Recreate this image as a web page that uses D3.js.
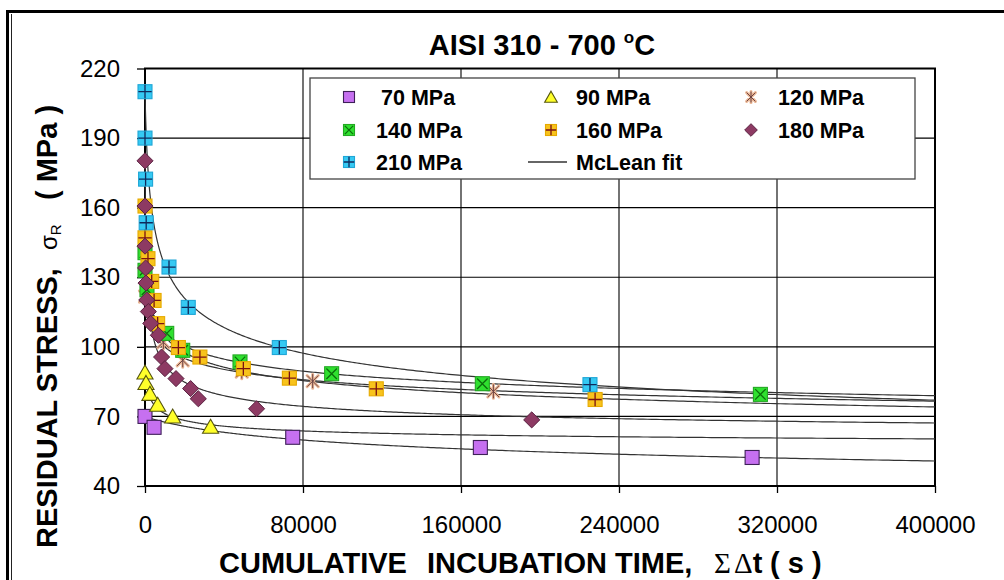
<!DOCTYPE html>
<html>
<head>
<meta charset="utf-8">
<script src="https://cdn.jsdelivr.net/npm/d3@7"></script>
<style>
  html, body { margin: 0; padding: 0; background: #fff; }
  svg { display: block; font-family: "Liberation Sans", Arial, Helvetica, sans-serif; }
</style>
</head>
<body>
<svg id="chart" width="1004" height="580"></svg>
<script>
// ---- data ----------------------------------------------------------------
const seriesNames = ["70 MPa", "90 MPa", "120 MPa", "140 MPa", "160 MPa", "180 MPa", "210 MPa"];

// cumulative incubation time (s) and residual stress (MPa) for each initial stress
const t70  = [0, 4600, 74800, 169800, 307400];
const s70  = [70, 65.3, 61, 56.6, 52.3];

const t90  = [0, 500, 2500, 6400, 14000, 33200];
const s90  = [89, 84.5, 79.8, 75.1, 70, 65.6];

const t120 = [0, 9300, 19100, 49000, 84900, 176400];
const s120 = [121.7, 102, 94.2, 89.3, 85.2, 80.8];

const t140 = [0, 0, 1000, 11000, 19100, 48100, 94500, 170800, 311600];
const s140 = [140.6, 133, 124.6, 105.8, 98.5, 93.5, 88.4, 84.1, 79.5];

const t160 = [0, 0, 1500, 3400, 4600, 6400, 16900, 27800, 49800, 73100, 117100, 227900];
const s160 = [160.7, 147, 138, 128.2, 120, 110, 99.7, 95.6, 90.6, 86.5, 81.9, 77.3];

const t180 = [0, 0, 0, 300, 500, 900, 1700, 2900, 6750, 8400, 10100, 15700, 23100, 27000, 56500, 195800];
const s180 = [180.2, 160.7, 143.4, 134, 127.5, 120.2, 115.2, 110.1, 105, 95.6, 90.6, 86.3, 82, 77.6, 73.3, 68.5];

const t210 = [0, 0, 300, 600, 12150, 21900, 68000, 225300];
const s210 = [210, 190, 172.3, 153.5, 134.4, 117, 99.7, 83.7];

// McLean relaxation fit: sigma(t) = si + (s0 - si) * (1 + t / tau)^(-m)
const fitS0  = [69.9, 89.1, 121.7, 140.6, 160.7, 180.2, 210];
const fitSi  = [0, 55, 30, 30, 30, 58, 30];
const fitTau = [30000, 1000, 1000, 500, 200, 300, 1000];
const fitM   = [0.12, 0.31, 0.113, 0.122, 0.143, 0.36, 0.224];

const xTicks = [0, 80000, 160000, 240000, 320000, 400000];
const yTicks = [40, 70, 100, 130, 160, 190, 220];

const seriesT = [t70, t90, t120, t140, t160, t180, t210];
const seriesS = [s70, s90, s120, s140, s160, s180, s210];

// ---- marker styles -------------------------------------------------------
const styles = [
  { kind: "square",     fill: "#c670f0", stroke: "#3e2058" },
  { kind: "triangle",   fill: "#ffff2a", stroke: "#55550e" },
  { kind: "star",       fill: "none",    stroke: "#ebb795", inner: "#6b4343" },
  { kind: "xsquare",    fill: "#2fe02f", stroke: "#23a823", inner: "#0b6e0b" },
  { kind: "plussquare", fill: "#f8c31c", stroke: "#e6aa00", inner: "#7a1212" },
  { kind: "diamond",    fill: "#8d3a63", stroke: "#5a2141" },
  { kind: "plussquare", fill: "#35c9f3", stroke: "#20a6d6", inner: "#0f2a5c" }
];

function drawMarker(sel, st, cx, cy, r) {
  const g = sel.append("g").attr("transform", `translate(${cx},${cy})`);
  if (st.kind === "square" || st.kind === "xsquare" || st.kind === "plussquare") {
    g.append("rect").attr("x", -r).attr("y", -r).attr("width", 2 * r).attr("height", 2 * r)
      .attr("fill", st.fill).attr("stroke", st.stroke).attr("stroke-width", 1.1);
    if (st.kind === "xsquare") {
      g.append("path").attr("d", `M${-r * 0.75},${-r * 0.75}L${r * 0.75},${r * 0.75}M${-r * 0.75},${r * 0.75}L${r * 0.75},${-r * 0.75}`)
        .attr("stroke", st.inner).attr("stroke-width", 1.3);
    }
    if (st.kind === "plussquare") {
      g.append("path").attr("d", `M0,${-r * 0.95}L0,${r * 0.95}M${-r * 0.95},0L${r * 0.95},0`)
        .attr("stroke", st.inner).attr("stroke-width", 1.3);
    }
  } else if (st.kind === "triangle") {
    g.append("path").attr("d", `M0,${-r * 1.05}L${r * 1.15},${r * 0.95}L${-r * 1.15},${r * 0.95}Z`)
      .attr("fill", st.fill).attr("stroke", st.stroke).attr("stroke-width", 1.1);
  } else if (st.kind === "diamond") {
    const d = r * 1.15;
    g.append("path").attr("d", `M0,${-d}L${d},0L0,${d}L${-d},0Z`)
      .attr("fill", st.fill).attr("stroke", st.stroke).attr("stroke-width", 1);
  } else if (st.kind === "star") {
    const a = r * 0.8;
    const p = `M0,${-r}L0,${r}M${-a},${-a}L${a},${a}M${-a},${a}L${a},${-a}`;
    g.append("path").attr("d", p).attr("stroke", st.stroke).attr("stroke-width", 3).attr("stroke-linecap", "round");
    g.append("path").attr("d", p).attr("stroke", st.inner).attr("stroke-width", 1);
  }
}

// ---- layout --------------------------------------------------------------
const svg = d3.select("#chart");
const x = d3.scaleLinear().domain([0, 400000]).range([145, 935]);
const y = d3.scaleLinear().domain([40, 220]).range([486, 68.5]);

svg.append("rect").attr("width", 1004).attr("height", 580).attr("fill", "#fff");

// outer frame of the figure
svg.append("path").attr("d", "M7.5,580V11.5H1004").attr("fill", "none").attr("stroke", "#000").attr("stroke-width", 3);
svg.append("path").attr("d", "M11.5,14V580").attr("fill", "none").attr("stroke", "#222").attr("stroke-width", 1);

// title
const title = svg.append("text").attr("x", 542).attr("y", 55).attr("text-anchor", "middle")
  .attr("font-size", 29).attr("font-weight", "bold").attr("fill", "#000");
title.append("tspan").text("AISI 310 - 700 ");
title.append("tspan").attr("font-size", 17).attr("dy", -12).text("o");
title.append("tspan").attr("dy", 12).text("C");

// gridlines
const grid = svg.append("g").attr("stroke", "#000").attr("stroke-width", 1.1);
grid.selectAll(".gy").data(yTicks.slice(1, -1)).join("line")
  .attr("x1", x(0)).attr("x2", x(400000)).attr("y1", d => y(d)).attr("y2", d => y(d));
grid.selectAll(".gx").data(xTicks.slice(1, -1)).join("line")
  .attr("y1", y(40)).attr("y2", y(220)).attr("x1", d => x(d)).attr("x2", d => x(d));

// axes
const yAxis = svg.append("g").attr("transform", `translate(${x(0)},0)`)
  .call(d3.axisLeft(y).tickValues(yTicks).tickSize(8).tickPadding(17));
const xAxis = svg.append("g").attr("transform", `translate(0,${y(40)})`)
  .call(d3.axisBottom(x).tickValues(xTicks).tickSize(7).tickPadding(23).tickFormat(d3.format("d")));
[yAxis, xAxis].forEach(a => {
  a.select(".domain").remove();
  a.attr("font-family", null).attr("font-size", null);
  a.selectAll(".tick line").attr("stroke", "#000").attr("stroke-width", 1.3);
  a.selectAll(".tick text").attr("font-size", 24).attr("fill", "#000");
});

// plot border
svg.append("rect").attr("x", x(0)).attr("y", y(220)).attr("width", x(400000) - x(0)).attr("height", y(40) - y(220))
  .attr("fill", "none").attr("stroke", "#000").attr("stroke-width", 2);

// McLean fit curves
const sampleT = d3.range(0, 401).map(i => 400000 * Math.pow(i / 400, 3));
const line = d3.line().x(d => x(d[0])).y(d => y(d[1]));
const fits = svg.append("g").attr("fill", "none").attr("stroke", "#333").attr("stroke-width", 1.2);
seriesNames.forEach((n, i) => {
  const pts = sampleT.map(t => [t, fitSi[i] + (fitS0[i] - fitSi[i]) * Math.pow(1 + t / fitTau[i], -fitM[i])]);
  fits.append("path").attr("d", line(pts));
});

// data markers
const marks = svg.append("g");
seriesNames.forEach((n, i) => {
  const g = marks.append("g").attr("class", "series");
  seriesT[i].forEach((t, j) => drawMarker(g, styles[i], x(t), y(seriesS[i][j]), 7));
});

// legend
const lg = svg.append("g");
lg.append("rect").attr("x", 310).attr("y", 78).attr("width", 605).attr("height", 101)
  .attr("fill", "#fff").attr("stroke", "#444").attr("stroke-width", 1.3);
const colMarker = [349, 551, 751];
const colText = [376, 576, 778];
const rowY = [97, 130, 162];
const legendItems = seriesNames.concat(["McLean fit"]);
legendItems.forEach((name, k) => {
  const c = k % 3, r = Math.floor(k / 3);
  if (k < seriesNames.length) {
    drawMarker(lg, styles[k], colMarker[c], rowY[r], 5.5);
  } else {
    lg.append("line").attr("x1", 528).attr("x2", 567).attr("y1", rowY[r]).attr("y2", rowY[r])
      .attr("stroke", "#333").attr("stroke-width", 1.3);
  }
  lg.append("text").attr("x", colText[c] + (name === "70 MPa" ? 5 : 0)).attr("y", rowY[r] + 7.5)
    .attr("font-size", 21.5).attr("font-weight", "bold").attr("fill", "#000").text(name);
});

// y axis title
const yt = svg.append("text").attr("transform", "translate(57,548) rotate(-90)")
  .attr("font-size", 29).attr("font-weight", "bold").attr("fill", "#000");
yt.append("tspan").attr("x", 0).text("RESIDUAL STRESS,");
yt.append("tspan").attr("x", 298).attr("font-size", 24).attr("font-weight", "normal").text("σ");
yt.append("tspan").attr("font-size", 15).attr("font-weight", "normal").attr("dy", 4).text("R");
yt.append("tspan").attr("x", 348).attr("dy", -4).text("( MPa )");

// x axis title
const serif = "'Liberation Serif', 'Times New Roman', serif";
const xt = svg.append("text").attr("y", 573).attr("font-size", 29).attr("font-weight", "bold").attr("fill", "#000");
xt.append("tspan").attr("x", 219).text("CUMULATIVE");
xt.append("tspan").attr("x", 427).text("INCUBATION TIME,");
xt.append("tspan").attr("x", 714).attr("font-family", serif).attr("font-weight", "normal").text("Σ");
xt.append("tspan").attr("x", 734).attr("font-family", serif).attr("font-weight", "normal").text("Δ");
xt.append("tspan").text("t");
xt.append("tspan").attr("x", 770).text("( s )");
</script>
</body>
</html>
